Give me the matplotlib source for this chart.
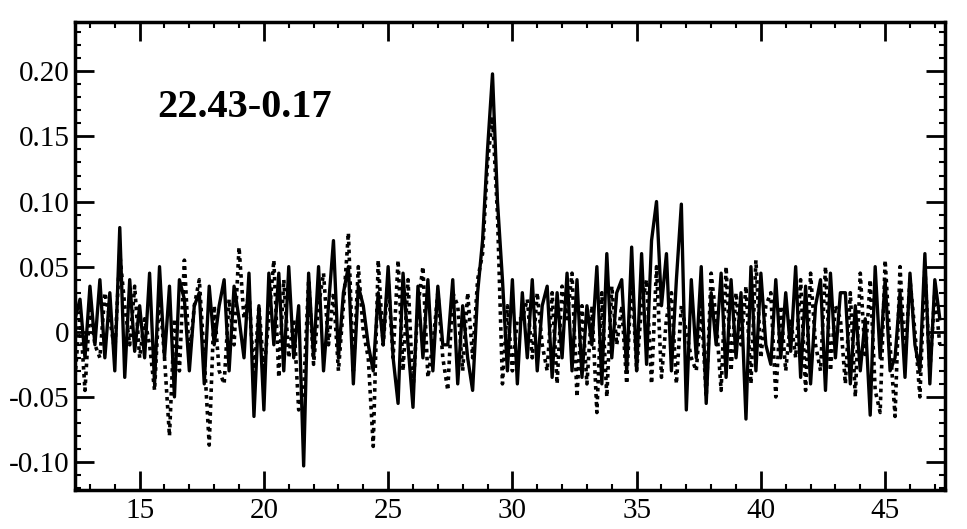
import numpy as np
import matplotlib.pyplot as plt
from matplotlib.ticker import MultipleLocator, FixedLocator

# velocity channels (km/s), 0.2 km/s spacing from 12.4
vel = np.arange(175) * 0.2 + 12.4

solid = [0.01, 0.025, -0.02, 0.035, -0.01,
         0.04, -0.02, 0.03, -0.03, 0.08,
         -0.035, 0.04, -0.015, 0.02, -0.02,
         0.045, -0.04, 0.05, -0.02, 0.035,
         -0.05, 0.04, 0.025, -0.03, 0.02,
         0.03, -0.04, 0.035, -0.01, 0.02,
         0.04, -0.03, 0.035, 0.01, -0.02,
         0.045, -0.065, 0.02, -0.06, 0.045,
         -0.01, 0.045, -0.03, 0.05, -0.02,
         0.02, -0.103, 0.045, -0.02, 0.05,
         -0.03, 0.02, 0.07, -0.02, 0.03,
         0.05, -0.04, 0.035, 0.02, -0.01,
         -0.03, 0.03, -0.01, 0.05, -0.02,
         -0.055, 0.045, -0.01, -0.058, 0.035,
         -0.02, 0.04, -0.03, 0.035, -0.01,
         -0.01, 0.04, -0.04, 0.02, -0.02,
         -0.045, 0.03, 0.07, 0.14, 0.198,
         0.1, 0.04, -0.03, 0.04, -0.04,
         0.03, -0.02, 0.04, -0.03, 0.02,
         0.035, -0.035, 0.03, -0.02, 0.045,
         -0.03, 0.04, -0.035, 0.02, -0.01,
         0.05, -0.04, 0.06, -0.02, 0.03,
         0.04, -0.03, 0.065, -0.03, 0.06,
         -0.025, 0.07, 0.1, 0.02, 0.06,
         -0.03, 0.04, 0.098, -0.06, 0.04,
         -0.02, 0.05, -0.055, 0.03, -0.01,
         0.045, -0.035, 0.04, -0.02, 0.03,
         -0.067, 0.05, -0.03, 0.045, -0.01,
         -0.025, 0.04, -0.02, 0.03, -0.015,
         0.05, -0.035, 0.035, -0.04, 0.02,
         0.04, -0.045, 0.045, -0.02, 0.03,
         0.03, -0.04, 0.02, -0.03, 0.01,
         -0.064, 0.05, -0.02, 0.04, -0.03,
         -0.02, 0.03, -0.035, 0.045, -0.01,
         -0.03, 0.06, -0.04, 0.04, 0.01]

dotted = [-0.035, 0.015, -0.045, 0.02, -0.01,
          -0.02, 0.03, 0.01, -0.015, 0.06,
          0.02, -0.01, 0.035, -0.02, 0.01,
          -0.01, -0.045, 0.03, -0.02, -0.08,
          0.01, -0.03, 0.055, -0.02, 0.02,
          0.04, -0.02, -0.087, 0.02, -0.03,
          -0.04, 0.025, -0.01, 0.065, 0.01,
          0.03, -0.035, 0.02, -0.03, 0.01,
          0.055, -0.035, 0.04, -0.02, 0.01,
          -0.06, -0.045, 0.04, -0.025, 0.02,
          0.045, -0.01, 0.03, -0.03, 0.02,
          0.076, -0.03, 0.05, 0.0, -0.02,
          -0.088, 0.055, -0.01, 0.04, -0.02,
          0.055, -0.03, 0.04, -0.045, 0.02,
          0.05, -0.035, -0.01, 0.03, -0.02,
          -0.045, 0.03, 0.02, -0.03, 0.03,
          -0.02, 0.04, 0.06, 0.13, 0.165,
          0.09, -0.04, 0.02, -0.03, 0.01,
          0.01, 0.025, -0.02, 0.03, -0.01,
          -0.03, 0.03, -0.04, 0.035, 0.01,
          0.045, -0.05, 0.02, -0.04, 0.02,
          -0.062, 0.03, -0.05, 0.035, -0.01,
          0.02, -0.04, 0.045, -0.03, 0.02,
          0.04, -0.04, 0.05, -0.035, 0.01,
          0.03, -0.04, 0.02, 0.0, -0.02,
          -0.03, 0.02, -0.05, 0.045, 0.01,
          -0.045, 0.05, -0.03, 0.03, -0.01,
          0.035, -0.04, 0.055, -0.02, 0.02,
          0.03, -0.05, 0.02, -0.03, 0.01,
          -0.02, 0.04, -0.045, 0.045, -0.01,
          -0.03, 0.05, -0.03, 0.02, 0.01,
          -0.04, 0.03, -0.05, 0.045, -0.02,
          0.04, -0.045, -0.062, 0.055, -0.01,
          -0.065, 0.05, -0.02, 0.04, 0.0,
          -0.05, 0.05, -0.03, 0.03, -0.01]

yticks = [-0.10, -0.05, 0, 0.05, 0.10, 0.15, 0.20]
ylabels = ['-0.10', '-0.05', '0', '0.05', '0.10', '0.15', '0.20']
xticks = [15, 20, 25, 30, 35, 40, 45]
source = '22.43-0.17'

plt.rcParams['font.family'] = ['Liberation Serif', 'DejaVu Serif']

fig = plt.figure(figsize=(9.67, 5.29), dpi=100)
ax = fig.add_axes([0.0776, 0.0737, 0.8994, 0.8843])

ax.plot(vel, dotted, color='black', lw=2.6, ls=(0, (1, 1.2)))
ax.plot(vel, solid, color='black', lw=2.4)

ax.set_xlim(12.4, 47.4)
ax.set_ylim(-0.1215, 0.2377)

ax.set_xticks(xticks)
ax.xaxis.set_minor_locator(MultipleLocator(1))
ax.yaxis.set_major_locator(FixedLocator(yticks))
ax.set_yticklabels(ylabels)
ax.yaxis.set_minor_locator(MultipleLocator(0.01))

ax.tick_params(which='both', direction='in', top=True, right=True,
               labelsize=21, color='black', width=2)
ax.tick_params(which='major', length=14)
ax.tick_params(which='minor', length=4, width=1.5)
ax.tick_params(axis='x', pad=6)
ax.tick_params(axis='y', pad=4)
for sp in ax.spines.values():
    sp.set_linewidth(2.5)

ax.text(15.7, 0.172, source, fontsize=29, fontweight='bold', va='center')

fig.savefig('out.png', dpi=100)
